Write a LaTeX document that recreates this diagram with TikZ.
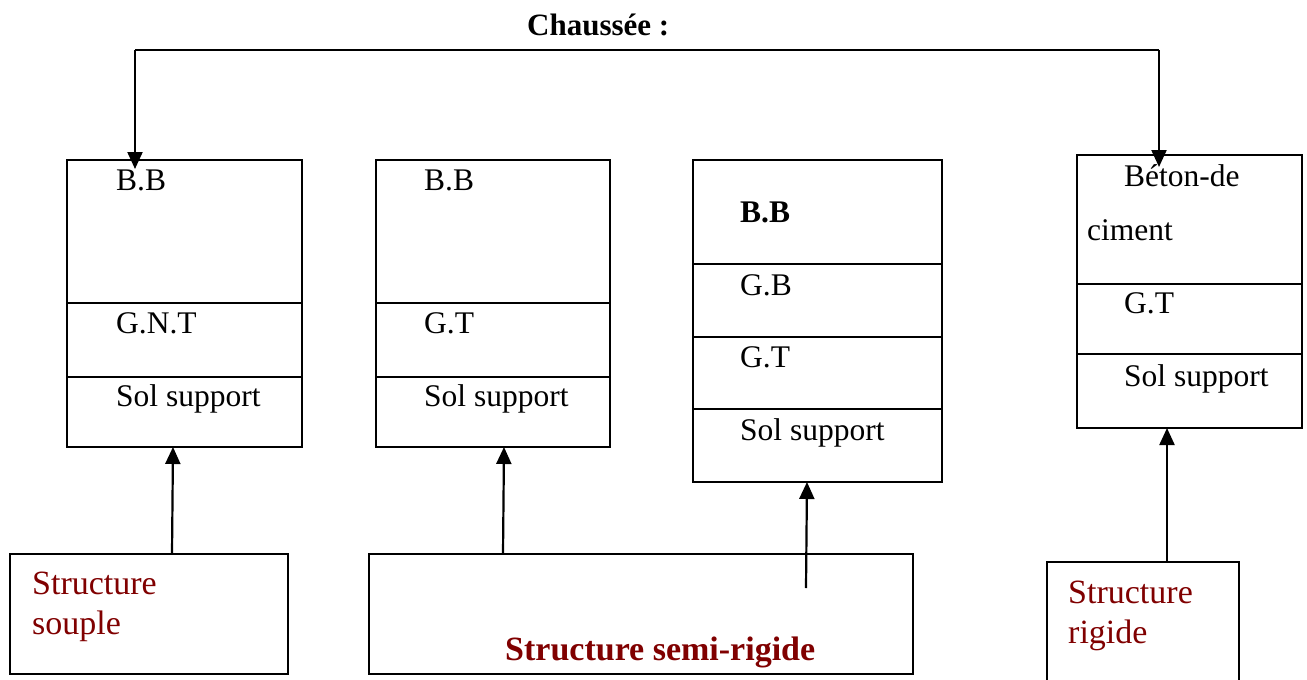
\documentclass[tikz,border=0pt]{standalone}
\usepackage{fontspec}
\setmainfont{Liberation Serif}
\usetikzlibrary{arrows.meta,calc}
\definecolor{darkred}{RGB}{128,0,0}
\tikzset{
  layerbox/.style={draw,line width=2.2pt,inner sep=0pt,outer sep=0pt},
  kindbox/.style={draw,line width=2.2pt,inner sep=0pt,outer sep=0pt},
  divider/.style={line width=2.2pt},
  wire/.style={line width=2.2pt},
  arr/.style={line width=2.2pt,-{Triangle[length=17pt,width=15pt]}},
  lbl/.style={anchor=base west,inner sep=0pt,font=\fontsize{31.5}{36}\selectfont},
  kind/.style={anchor=base west,inner sep=0pt,text=darkred,font=\fontsize{34}{40}\selectfont},
}
\begin{document}
\begin{tikzpicture}[x=1pt,y=-1pt]
\useasboundingbox (0,0) rectangle (1307,680);

% title
\node[anchor=base west,inner sep=0pt,font=\fontsize{31}{36}\selectfont\bfseries] (title) at (527,35) {Chaussée :};

% layer stacks
\node[layerbox,minimum width=235pt,minimum height=287pt] (c1) at (184.5,303.5) {};
\node[layerbox,minimum width=234pt,minimum height=287pt] (c2) at (493,303.5) {};
\node[layerbox,minimum width=249pt,minimum height=322pt] (c3) at (817.5,321) {};
\node[layerbox,minimum width=225pt,minimum height=273pt] (c4) at (1189.5,291.5) {};

\draw[divider] (c1.west |- 0,303) -- (c1.east |- 0,303);
\draw[divider] (c1.west |- 0,377) -- (c1.east |- 0,377);
\draw[divider] (c2.west |- 0,303) -- (c2.east |- 0,303);
\draw[divider] (c2.west |- 0,377) -- (c2.east |- 0,377);
\draw[divider] (c3.west |- 0,264) -- (c3.east |- 0,264);
\draw[divider] (c3.west |- 0,337) -- (c3.east |- 0,337);
\draw[divider] (c3.west |- 0,409) -- (c3.east |- 0,409);
\draw[divider] (c4.west |- 0,284) -- (c4.east |- 0,284);
\draw[divider] (c4.west |- 0,354) -- (c4.east |- 0,354);

% layer names
\node[lbl] (c1a) at (116,190) {B.B};
\node[lbl] (c1b) at (116,333) {G.N.T};
\node[lbl] (c1c) at (116,406) {Sol support};
\node[lbl] (c2a) at (424,190) {B.B};
\node[lbl] (c2b) at (424,333) {G.T};
\node[lbl] (c2c) at (424,406) {Sol support};
\node[lbl,font=\fontsize{31.5}{36}\selectfont\bfseries] (c3a) at (740,222) {B.B};
\node[lbl] (c3b) at (740,295) {G.B};
\node[lbl] (c3c) at (740,367) {G.T};
\node[lbl] (c3d) at (740,440) {Sol support};
\node[lbl] (c4a) at (1124,186) {Béton-de};
\node[lbl] (c4b) at (1087,240) {ciment};
\node[lbl] (c4c) at (1124,313) {G.T};
\node[lbl] (c4d) at (1124,386) {Sol support};

% structure types
\node[kindbox,minimum width=278pt,minimum height=120pt] (s1) at (149,614) {};
\node[kindbox,minimum width=544pt,minimum height=120pt] (s2) at (641,614) {};
\node[kindbox,minimum width=192pt,minimum height=130pt] (s3) at (1143,627) {};

\node[kind] (s1a) at (32,594) {Structure};
\node[kind] (s1b) at (32,634) {souple};
\node[kind,font=\fontsize{34}{40}\selectfont\bfseries] (s2a) at (505,660) {Structure semi-rigide};
\node[kind] (s3a) at (1068,603) {Structure};
\node[kind] (s3b) at (1068,643) {rigide};

% connectors: the pavement splits into the stacks
\coordinate (jl) at ($(c1.north west)+(68,-110)$);
\coordinate (jr) at ($(c4.north west)+(82,-105)$);
\draw[wire] (jl) -- (jr);
\draw[arr] (jl) -- ($(c1.north west)+(68,9)$);
\draw[arr] (jr) -- ($(c4.north west)+(82,12)$);

% connectors: each structure type points at its stack
\draw[arr] ($(s1.north west)+(162,0)$) -- ($(c1.south west)+(106,0)$);
\draw[arr] ($(s2.north west)+(134,0)$) -- ($(c2.south west)+(128,0)$);
\draw[arr] ($(s2.north west)+(437,34)$) -- ($(c3.south west)+(114,0)$);
\draw[arr] ($(s3.north west)+(120,0)$) -- ($(c4.south west)+(90,0)$);
\end{tikzpicture}
\end{document}
